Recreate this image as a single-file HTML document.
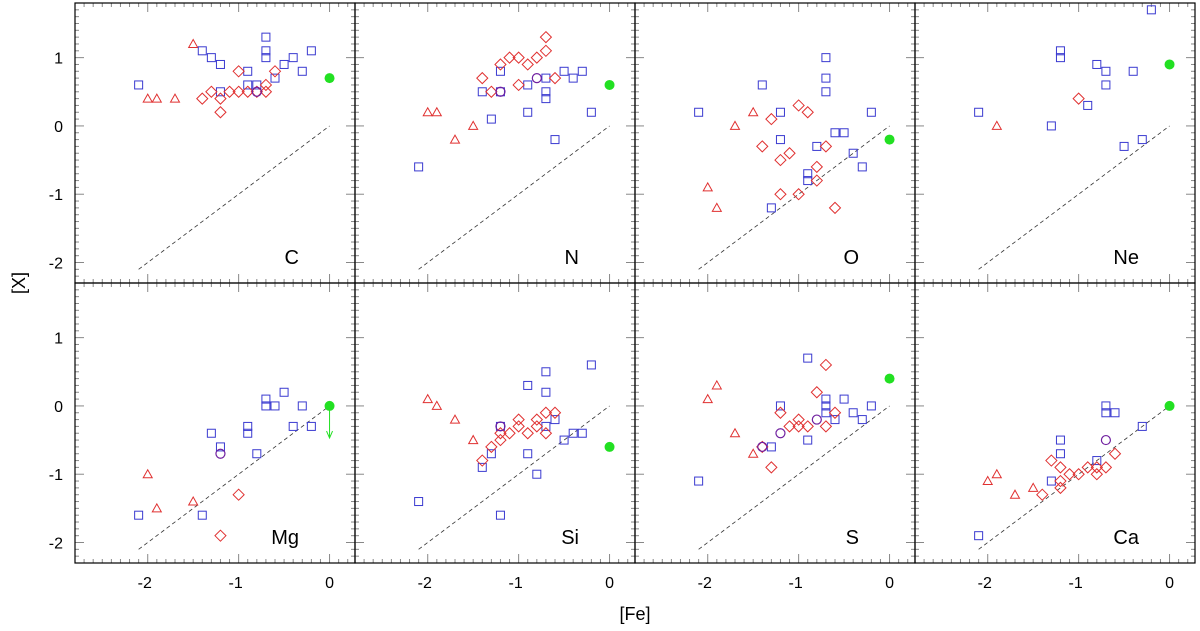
<!DOCTYPE html>
<html><head><meta charset="utf-8"><style>
html,body{margin:0;padding:0;background:#fff;}
svg{display:block;font-family:"Liberation Sans",sans-serif;}
</style></head><body>
<svg id="chart" width="1200" height="631" viewBox="0 0 1200 631" xmlns="http://www.w3.org/2000/svg"></svg>
<script>
// Panel element names
const elements = ["C","N","O","Ne","Mg","Si","S","Ca"];
const xTicks = [-2,-1,0];
const yTicks = [1,0,-1,-2];
// Per panel series: [Fe] and [X] pairs
const triangles = [
 [[-1.5,1.2],[-2.0,0.4],[-1.9,0.4],[-1.7,0.4]],
 [[-2.0,0.2],[-1.9,0.2],[-1.7,-0.2],[-1.5,0.0]],
 [[-2.0,-0.9],[-1.9,-1.2],[-1.7,0.0],[-1.5,0.2]],
 [[-1.9,0.0]],
 [[-2.0,-1.0],[-1.9,-1.5],[-1.5,-1.4]],
 [[-2.0,0.1],[-1.9,0.0],[-1.7,-0.2],[-1.5,-0.5]],
 [[-2.0,0.1],[-1.9,0.3],[-1.7,-0.4],[-1.5,-0.7]],
 [[-2.0,-1.1],[-1.9,-1.0],[-1.7,-1.3],[-1.5,-1.2]]
];
const squares = [
 [[-2.1,0.6],[-1.4,1.1],[-1.3,1.0],[-1.2,0.9],[-0.7,1.3],[-0.7,1.1],[-0.7,1.0],[-0.9,0.8],[-0.5,0.9],[-0.4,1.0],[-0.2,1.1],[-0.3,0.8],[-0.6,0.7],[-0.9,0.6],[-0.8,0.6],[-1.2,0.5]],
 [[-2.1,-0.6],[-1.4,0.5],[-1.3,0.1],[-1.2,0.8],[-0.9,0.6],[-0.9,0.2],[-0.7,0.7],[-0.7,0.5],[-0.7,0.4],[-0.6,-0.2],[-0.5,0.8],[-0.4,0.7],[-0.3,0.8],[-0.2,0.2],[-1.2,0.5]],
 [[-2.1,0.2],[-1.4,0.6],[-1.2,0.2],[-1.2,-0.2],[-1.3,-1.2],[-0.7,1.0],[-0.7,0.7],[-0.7,0.5],[-0.8,-0.3],[-0.9,-0.7],[-0.9,-0.8],[-0.6,-0.1],[-0.5,-0.1],[-0.4,-0.4],[-0.3,-0.6],[-0.2,0.2]],
 [[-2.1,0.2],[-1.3,0.0],[-1.2,1.1],[-1.2,1.0],[-0.8,0.9],[-0.7,0.8],[-0.7,0.6],[-0.9,0.3],[-0.4,0.8],[-0.5,-0.3],[-0.3,-0.2],[-0.2,1.7]],
 [[-2.1,-1.6],[-1.4,-1.6],[-1.3,-0.4],[-1.2,-0.6],[-0.9,-0.3],[-0.9,-0.4],[-0.8,-0.7],[-0.7,0.1],[-0.7,0.0],[-0.6,0.0],[-0.5,0.2],[-0.3,0.0],[-0.4,-0.3],[-0.2,-0.3]],
 [[-2.1,-1.4],[-1.4,-0.9],[-1.3,-0.7],[-1.2,-1.6],[-0.9,0.3],[-0.9,-0.7],[-0.8,-1.0],[-0.7,0.5],[-0.7,0.2],[-0.7,-0.3],[-0.6,-0.2],[-0.5,-0.5],[-0.4,-0.4],[-0.3,-0.4],[-0.2,0.6],[-1.2,-0.3]],
 [[-2.1,-1.1],[-1.3,-0.6],[-1.2,0.0],[-0.9,0.7],[-0.9,-0.5],[-0.7,0.1],[-0.7,0.0],[-0.7,-0.1],[-0.6,-0.2],[-0.5,0.1],[-0.4,-0.1],[-0.3,-0.2],[-0.2,0.0]],
 [[-2.1,-1.9],[-1.3,-1.1],[-1.2,-0.5],[-1.2,-0.7],[-0.8,-0.8],[-0.7,0.0],[-0.7,-0.1],[-0.6,-0.1],[-0.3,-0.3]]
];
const diamonds = [
 [[-1.0,0.8],[-0.6,0.8],[-1.4,0.4],[-1.3,0.5],[-1.2,0.4],[-1.2,0.2],[-1.1,0.5],[-1.0,0.5],[-0.9,0.5],[-0.8,0.5],[-0.7,0.5],[-0.7,0.6]],
 [[-1.4,0.7],[-1.3,0.5],[-1.2,0.9],[-1.1,1.0],[-1.0,1.0],[-0.9,0.9],[-0.8,1.0],[-0.7,1.1],[-0.7,1.3],[-0.6,0.7],[-1.0,0.6]],
 [[-1.3,0.1],[-1.4,-0.3],[-1.2,-0.5],[-1.1,-0.4],[-1.0,0.3],[-0.9,0.2],[-0.7,-0.3],[-0.8,-0.6],[-0.8,-0.8],[-1.2,-1.0],[-1.0,-1.0],[-0.6,-1.2]],
 [[-1.0,0.4]],
 [[-1.0,-1.3],[-1.2,-1.9]],
 [[-1.4,-0.8],[-1.3,-0.6],[-1.2,-0.5],[-1.2,-0.4],[-1.1,-0.4],[-1.0,-0.3],[-1.0,-0.2],[-0.9,-0.4],[-0.8,-0.3],[-0.8,-0.2],[-0.7,-0.1],[-0.7,-0.4],[-0.6,-0.1]],
 [[-0.7,0.6],[-0.8,0.2],[-1.2,-0.1],[-1.1,-0.3],[-1.0,-0.2],[-1.0,-0.3],[-0.9,-0.3],[-0.7,-0.3],[-0.6,-0.1],[-1.3,-0.9],[-1.4,-0.6]],
 [[-1.4,-1.3],[-1.3,-0.8],[-1.2,-0.9],[-1.2,-1.1],[-1.2,-1.2],[-1.1,-1.0],[-1.0,-1.0],[-0.9,-0.9],[-0.8,-1.0],[-0.8,-0.9],[-0.7,-0.9],[-0.6,-0.7]]
];
const circles = [
 [[-0.8,0.5]],
 [[-1.2,0.5],[-0.8,0.7]],
 [],[],
 [[-1.2,-0.7]],
 [[-1.2,-0.3]],
 [[-1.4,-0.6],[-1.2,-0.4],[-0.8,-0.2]],
 [[-0.7,-0.5]]
];
const solar = [0.7,0.6,-0.2,0.9,0.0,-0.6,0.4,0.0];
const upperLimitTo = [null,null,null,null,-0.47,null,null,null];

const NS="http://www.w3.org/2000/svg";
const svg=document.getElementById('chart');
const XMIN=-2.8,XMAX=0.28,YMIN=-2.3,YMAX=1.8;
const PW=280,PH=280,LEFT=75,TOP=3;
function mk(tag,attrs,parent){const e=document.createElementNS(NS,tag);for(const k in attrs)e.setAttribute(k,attrs[k]);(parent||svg).appendChild(e);return e;}
function px(p,x){return LEFT+(p%4)*PW+(x-XMIN)/(XMAX-XMIN)*PW;}
function py(p,y){return TOP+Math.floor(p/4)*PH+(YMAX-y)/(YMAX-YMIN)*PH;}

for(let p=0;p<8;p++){
  const g=mk('g',{});
  
  
  const x0=LEFT+(p%4)*PW, y0=TOP+Math.floor(p/4)*PH;
  // ticks
  const tg=mk('g',{stroke:'#888','stroke-width':1},g);
  
  
  for(let i=-28;i<=2;i++){const v=i/10;const X=px(p,v);const L=(i%10===0)?9:4;
    mk('line',{x1:X,x2:X,y1:y0,y2:y0+L},tg);mk('line',{x1:X,x2:X,y1:y0+PH,y2:y0+PH-L},tg);}
  for(let i=-23;i<=18;i++){const v=i/10;const Y=py(p,v);const L=(i%10===0)?9:4;
    mk('line',{x1:x0,x2:x0+L,y1:Y,y2:Y},tg);mk('line',{x1:x0+PW,x2:x0+PW-L,y1:Y,y2:Y},tg);}
  // one-to-one line
  const d=mk('line',{x1:px(p,-2.1),y1:py(p,-2.1),x2:px(p,0),y2:py(p,0),stroke:'#333','stroke-width':0.8,'stroke-dasharray':'4,3'},g);
  
  
  triangles[p].forEach(([x,y])=>{const X=px(p,x),Y=py(p,y);
    const t=mk('polygon',{points:`${X-4.5},${Y+3.5} ${X+4.5},${Y+3.5} ${X},${Y-4.5}`,fill:'none',stroke:'#e03030','stroke-width':1},g);
    
    });
  squares[p].forEach(([x,y])=>{const X=px(p,x),Y=py(p,y);
    const s=mk('rect',{x:X-4,y:Y-4,width:8,height:8,fill:'none',stroke:'#3a3ad0','stroke-width':1},g);
    
    });
  diamonds[p].forEach(([x,y])=>{const X=px(p,x),Y=py(p,y);
    const s=mk('polygon',{points:`${X},${Y-5.5} ${X+5.5},${Y} ${X},${Y+5.5} ${X-5.5},${Y}`,fill:'none',stroke:'#e03030','stroke-width':1},g);
    
    });
  circles[p].forEach(([x,y])=>{const X=px(p,x),Y=py(p,y);
    const s=mk('circle',{cx:X,cy:Y,r:4.5,fill:'none',stroke:'#7020a0','stroke-width':1.2},g);
    
    });
  const sc=mk('circle',{cx:px(p,0),cy:py(p,solar[p]),r:5,fill:'#22e022'},g);
  
  
  if(upperLimitTo[p]!==null){const X=px(p,0),Y1=py(p,solar[p]),Y2=py(p,upperLimitTo[p]);
    const a=mk('path',{d:`M${X},${Y1} L${X},${Y2} M${X-3},${Y2-7} L${X},${Y2} L${X+3},${Y2-7}`,stroke:'#22e022','stroke-width':1,fill:'none'},g);
    
    }
  const lab=mk('text',{x:x0+PW-56,y:y0+PH-19,'font-size':20,'text-anchor':'end'},g);
  lab.textContent=elements[p];
  
  
  const fr=mk('rect',{x:x0,y:y0,width:PW,height:PH,fill:'none',stroke:'#000','stroke-width':1.2},g);
  
  
  if(p>=4){xTicks.forEach(v=>{const t=mk('text',{x:px(p,v)-(v<0?3:0),y:588,'font-size':16,'text-anchor':'middle'});t.textContent=(v<0?'-':'')+Math.abs(v);
    
    });}
  if(p%4===0){yTicks.forEach(v=>{const t=mk('text',{x:63,y:py(p,v)+6,'font-size':16,'text-anchor':'end'});t.textContent=(v<0?'-':'')+Math.abs(v);
    
    });}
}
const xt=mk('text',{x:635,y:620,'font-size':18,'text-anchor':'middle'});xt.textContent='[Fe]';


const yt=mk('text',{x:25,y:283,'font-size':18,'text-anchor':'middle',transform:'rotate(-90 25 283)'});yt.textContent='[X]';


</script>
</body></html>
